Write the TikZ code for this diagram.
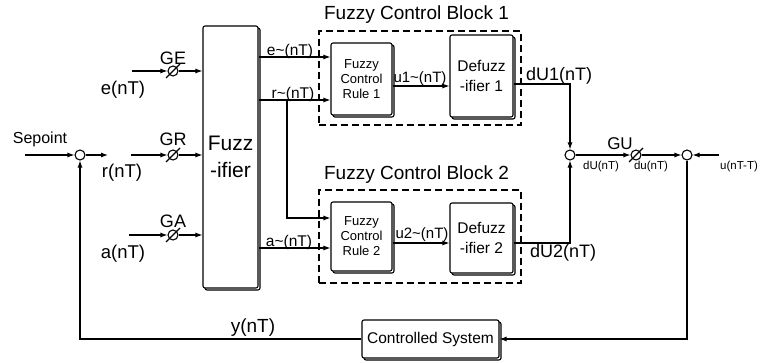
\documentclass[tikz,border=0pt]{standalone}
\usepackage{fontspec}
\setmainfont{Liberation Sans}
\usetikzlibrary{arrows.meta,shadows,calc}
\newcommand{\fsz}[1]{\fontsize{#1}{#1}\selectfont}
\begin{document}
\begin{tikzpicture}[x=1pt,y=-1pt,
  line width=1.1pt,
  >={Latex[length=7pt,width=5pt]},
  blk/.style={draw,fill=white,rounded corners=2pt,
    copy shadow={shadow xshift=2pt,shadow yshift=-2pt},
    align=center,inner sep=0pt},
  sumc/.style={draw,circle,minimum size=10pt,inner sep=0pt,fill=white},
  gainc/.style={draw,circle,minimum size=10pt,inner sep=0pt},
  dbox/.style={draw,dash pattern=on 7pt off 4pt,line width=1.2pt,inner sep=0pt},
  lbl/.style={inner sep=0pt,font=\fsz{18}},
  mlbl/.style={inner sep=0pt,font=\fsz{15.5}},
  slbl/.style={inner sep=0pt,font=\fsz{11.5}},
]
\useasboundingbox (0,0) rectangle (762,363);

% dashed fuzzy control blocks
\node[dbox,minimum width=202pt,minimum height=94pt] (fb1) at (420,78) {};
\node[dbox,minimum width=202pt,minimum height=93pt] (fb2) at (420,236.5) {};
\node[inner sep=0pt,font=\fsz{19}] (t1) at (416.5,15) {Fuzzy Control Block 1};
\node[inner sep=0pt,font=\fsz{19}] (t2) at (416.5,175) {Fuzzy Control Block 2};

% blocks
\node[blk,minimum width=55pt,minimum height=262pt,font=\fontsize{21}{27}\selectfont] (fz) at (230.5,157) {Fuzz\\-ifier};
\node[blk,minimum width=61pt,minimum height=72pt,font=\fontsize{13}{15}\selectfont] (r1) at (361.5,79) {Fuzzy\\Control\\Rule 1};
\node[blk,minimum width=61pt,minimum height=69pt,font=\fontsize{13}{15}\selectfont] (r2) at (361.5,236.5) {Fuzzy\\Control\\Rule 2};
\node[blk,minimum width=63pt,minimum height=82pt,font=\fontsize{15.5}{20}\selectfont] (d1) at (481.5,76) {Defuzz\\-ifier 1};
\node[blk,minimum width=63pt,minimum height=70pt,font=\fontsize{15.5}{20}\selectfont] (d2) at (481.5,238) {Defuzz\\-ifier 2};
\node[blk,minimum width=137pt,minimum height=38pt,font=\fsz{15.5}] (cs) at (430.5,339) {Controlled System};

% summing junctions
\node[sumc] (s1) at (80,155) {};
\node[sumc] (s2) at (570,155) {};
\node[sumc] (s3) at (687,155) {};

% gains
\node[gainc] (ge) at (173,71) {};
\node[gainc] (gr) at (173,155) {};
\node[gainc] (ga) at (173,235) {};
\node[gainc] (gu) at (636,155) {};
\foreach \g in {ge,gr,ga,gu}{
  \draw ($(\g)+(-7,7)$) -- ($(\g)+(7,-7)$);
}

% free ends and levels
\coordinate (spin) at (25,155);
\coordinate (s1out) at (108,155);
\coordinate (ein) at (132,71);
\coordinate (rin) at (131,155);
\coordinate (ain) at (129,235);
\coordinate (uin) at (719,155);
\coordinate (ye) at (0,57);
\coordinate (yr) at (0,100);
\coordinate (yb) at (0,218);
\coordinate (ya) at (0,248);
\coordinate (yu1) at (0,86);
\coordinate (yu2) at (0,243);
\coordinate (yd1) at (0,84);
\coordinate (yd2) at (0,243);
\coordinate (br) at (287,100);

% connectors
\draw[->] (spin) -- (s1);
\draw[->] (s1) -- (s1out);
\draw[->] (ein) -- (ge);
\draw[->] (ge) -- (ge -| fz.west);
\draw[->] (rin) -- (gr);
\draw[->] (gr) -- (gr -| fz.west);
\draw[->] (ain) -- (ga);
\draw[->] (ga) -- (ga -| fz.west);

\draw[->] (fz.east |- ye) -- (r1.west |- ye);
\draw[->] (fz.east |- yr) -- (r1.west |- yr);
\draw[->] (br) |- (r2.west |- yb);
\draw[->] (fz.east |- ya) -- (r2.west |- ya);

\draw[->] (r1.east |- yu1) -- (d1.west |- yu1);
\draw[->] (r2.east |- yu2) -- (d2.west |- yu2);

\draw[->] (d1.east |- yd1) -| (s2.north);
\draw[->] (d2.east |- yd2) -| (s2.south);
\draw[->] (s2) -- (gu);
\draw[->] (gu) -- (s3);
\draw[->] (uin) -- (s3);
\draw[->] (s3) |- (cs.east);
\draw[->] (cs.west) -| (s1.south);

% labels
\node[inner sep=0pt,font=\fsz{16}] (lsp) at (40,139) {Sepoint};
\node[lbl] (lge) at (173,58) {GE};
\node[lbl] (lgr) at (173,139) {GR};
\node[lbl] (lga) at (173,221) {GA};
\node[lbl,font=\fsz{18.5}] (le) at (123,90) {e(nT)};
\node[lbl,font=\fsz{18.5}] (lr) at (122,173) {r(nT)};
\node[lbl,font=\fsz{18.5}] (la) at (123,254) {a(nT)};
\node[mlbl] (let) at (290,51) {e\textasciitilde(nT)};
\node[mlbl] (lrt) at (293,94) {r\textasciitilde(nT)};
\node[mlbl] (lat) at (289,242) {a\textasciitilde(nT)};
\node[mlbl,font=\fsz{15}] (lu1) at (420,79) {u1\textasciitilde(nT)};
\node[mlbl,font=\fsz{15}] (lu2) at (422,235) {u2\textasciitilde(nT)};
\node[lbl] (ld1) at (559,76) {dU1(nT)};
\node[lbl] (ld2) at (563,253) {dU2(nT)};
\node[lbl,font=\fsz{17}] (lgu) at (620,144) {GU};
\node[slbl] (ldU) at (601,167) {dU(nT)};
\node[slbl] (ldu) at (651,167) {du(nT)};
\node[slbl] (lun) at (739,167) {u(nT-T)};
\node[lbl,font=\fsz{19}] (ly) at (253,328) {y(nT)};
\end{tikzpicture}
\end{document}
